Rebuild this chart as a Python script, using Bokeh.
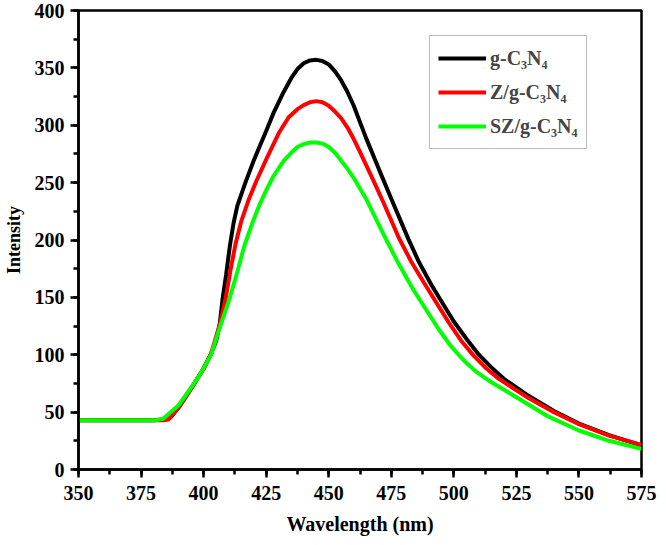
from bokeh.plotting import figure
from bokeh.models import Range1d, SingleIntervalTicker, Legend, LegendItem
from bokeh.embed import file_html
from bokeh.resources import INLINE

# ---- data ----
black_x = [350, 365, 380, 384, 387, 390, 393, 396.6, 400, 403, 405, 406.4, 407.6, 409, 410.5, 412, 413.5, 416.7,
           420, 425, 428, 432, 435, 437.5, 440, 442.5, 445, 447.5, 450, 452.5, 455, 457.5, 460, 464.9, 470, 475,
           481.8, 486, 491, 500, 505, 510, 515, 520, 530, 540, 550, 562, 575]
black_y = [43, 43, 43, 43.5, 46, 54, 64, 76, 88, 101, 112, 126, 149, 170, 195, 215, 230, 250,
           269, 295, 311, 329, 341, 349, 354, 356.5, 357, 356, 353, 347, 339, 329, 317, 289, 262, 236,
           201, 181, 161, 129, 114, 100, 89, 79, 64, 51, 40, 30, 21]

red_x = [350, 365, 384, 386, 390, 396.6, 400, 403, 406.4, 408.8, 410.6, 412.8, 415, 418, 421, 425.4, 430,
         434, 437.5, 440, 442.5, 445, 447.5, 450, 452.5, 455, 457.5, 460, 462, 467.6, 472, 478, 483, 488, 498,
         503, 508, 513, 518, 530, 540, 550, 562, 575]
red_y = [43, 43, 43, 43.5, 54, 76, 88, 101, 126, 149, 172, 197, 216, 235, 251, 272, 293,
         307, 314, 317.5, 320, 321, 320, 317, 312, 306, 298, 288, 279, 253, 232, 202, 181, 163, 128,
         112, 99, 88, 79, 62, 50, 39.5, 29.5, 21.5]

green_x = [350, 365, 381, 384, 390, 397.8, 403, 406.8, 410.4, 413.3, 416.3, 419.5, 422.6, 425.4, 428, 432,
           435, 437.5, 440, 442.5, 445, 447.5, 450, 452.5, 455, 457.5, 460, 464.9, 472.8, 478, 484, 494, 499,
           504, 509, 515, 525, 537, 550, 562, 575]
green_y = [43, 43, 43, 44.5, 56, 80, 100, 126, 149, 171, 195, 215, 232, 245, 256, 269,
           276, 281, 283.5, 285, 285, 284, 281, 276, 269, 262, 254, 236, 201, 179, 156, 122, 107,
           95, 85, 76, 63, 47, 34, 25, 18]

series_labels = ["g-C\u2083N\u2084", "Z/g-C\u2083N\u2084", "SZ/g-C\u2083N\u2084"]
series_colors = ["#000000", "#ff0000", "#00ff00"]

x_label = "Wavelength (nm)"
y_label = "Intensity"

FONT = "Liberation Serif"

p = figure(width=657, height=537, output_backend="svg", toolbar_location=None,
           x_range=Range1d(350, 575), y_range=Range1d(0, 400),
           min_border_left=71, min_border_right=16, min_border_top=10, min_border_bottom=60)

p.xgrid.visible = False
p.ygrid.visible = False
p.outline_line_color = "black"
p.outline_line_width = 2.5
p.background_fill_color = "white"
p.border_fill_color = "white"

r_black = p.line(black_x, black_y, line_color=series_colors[0], line_width=4)
r_red = p.line(red_x, red_y, line_color=series_colors[1], line_width=4)
r_green = p.line(green_x, green_y, line_color=series_colors[2], line_width=4)

p.xaxis.ticker = SingleIntervalTicker(interval=25, num_minor_ticks=2)
p.yaxis.ticker = SingleIntervalTicker(interval=50, num_minor_ticks=2)

for ax in (p.xaxis[0], p.yaxis[0]):
    ax.axis_line_width = 2.5
    ax.axis_line_color = "black"
    ax.major_tick_line_width = 2.5
    ax.minor_tick_line_width = 2.5
    ax.major_tick_out = 8
    ax.major_tick_in = 0
    ax.minor_tick_out = 5
    ax.minor_tick_in = 0
    ax.major_label_text_font = FONT
    ax.major_label_text_font_style = "bold"
    ax.major_label_text_font_size = "20px"
    ax.major_label_text_color = "black"
    ax.axis_label_text_font = FONT
    ax.axis_label_text_font_style = "bold"
    ax.axis_label_text_color = "black"

p.xaxis.axis_label = x_label
p.yaxis.axis_label = y_label
p.xaxis.axis_label_text_font_size = "20px"
p.yaxis.axis_label_text_font_size = "18px"
p.xaxis.major_label_standoff = 8
p.yaxis.major_label_standoff = 6
p.xaxis.axis_label_standoff = 10
p.yaxis.axis_label_standoff = 8

legend = Legend(items=[LegendItem(label=series_labels[0], renderers=[r_black]),
                       LegendItem(label=series_labels[1], renderers=[r_red]),
                       LegendItem(label=series_labels[2], renderers=[r_green])],
                location=(351, 320))
legend.border_line_color = "#777777"
legend.border_line_width = 1
legend.background_fill_alpha = 1
legend.label_text_font = FONT
legend.label_text_font_style = "bold"
legend.label_text_font_size = "20px"
legend.glyph_width = 48
legend.glyph_height = 28
legend.label_height = 28
legend.label_standoff = 4
legend.spacing = 6
legend.padding = 8
legend.margin = 0
p.add_layout(legend)

open("out.html", "w").write(file_html(p, INLINE))
